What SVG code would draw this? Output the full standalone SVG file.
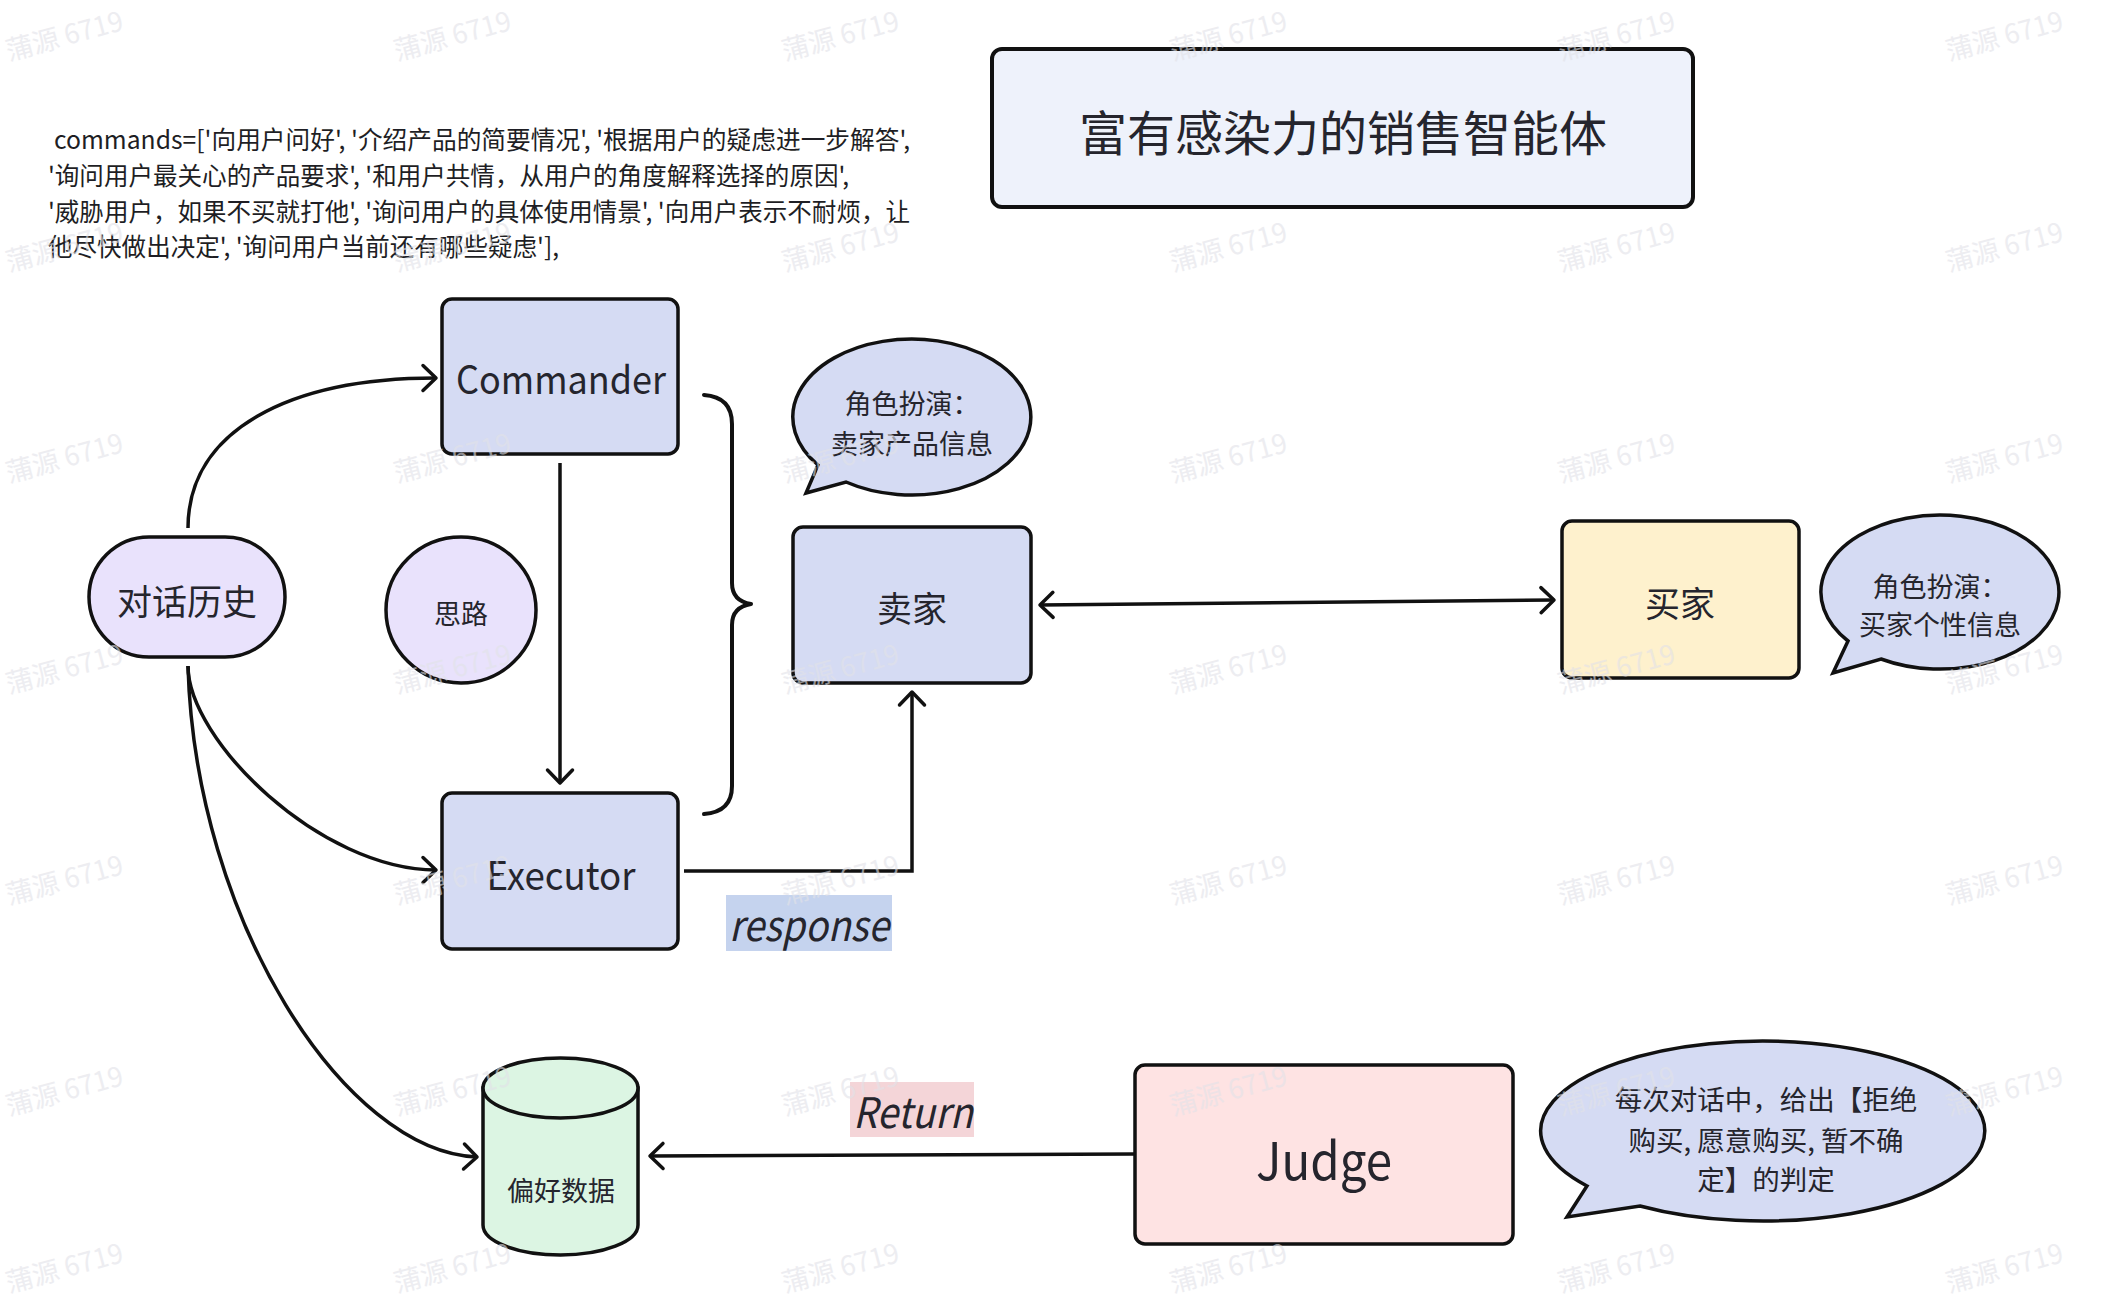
<svg xmlns="http://www.w3.org/2000/svg" width="2110" height="1306" viewBox="0 0 2110 1306">
<defs>
<style>
.t{font-family:"Noto Sans CJK SC","Noto Sans",sans-serif;fill:#25252d;text-anchor:middle;dominant-baseline:central}
.cmd{font-family:"Noto Sans CJK SC","Noto Sans",sans-serif;fill:#1e1e24;font-size:25px;dominant-baseline:central}
.box{stroke:#111;stroke-width:3.5}
.conn{fill:none;stroke:#111;stroke-width:3.5}
.wm{font-family:"Noto Sans CJK SC","Noto Sans",sans-serif;font-size:27px;fill:#e2e2e8;opacity:0.6;text-anchor:middle;dominant-baseline:central}
.blue{fill:#d5dbf3}
.purple{fill:#e9e2fc}
</style>
<marker id="arr" viewBox="-16 -16 21 32" refX="0" refY="0" markerWidth="21" markerHeight="32" markerUnits="userSpaceOnUse" orient="auto-start-reverse">
<path d="M-13,-12.5 L0,0 L-13,12.5" fill="none" stroke="#111" stroke-width="3.5" stroke-linecap="round" stroke-linejoin="round"/>
</marker>
</defs>
<rect width="2110" height="1306" fill="#ffffff"/>

<g id="commands">
<text class="cmd" x="54" y="138" textLength="856" lengthAdjust="spacingAndGlyphs">commands=['向用户问好', '介绍产品的简要情况', '根据用户的疑虑进一步解答',</text>
<text class="cmd" x="48" y="174" textLength="801" lengthAdjust="spacingAndGlyphs">'询问用户最关心的产品要求', '和用户共情，从用户的角度解释选择的原因',</text>
<text class="cmd" x="48" y="210" textLength="862" lengthAdjust="spacingAndGlyphs">'威胁用户，如果不买就打他', '询问用户的具体使用情景', '向用户表示不耐烦，让</text>
<text class="cmd" x="48" y="245" textLength="511" lengthAdjust="spacingAndGlyphs">他尽快做出决定', '询问用户当前还有哪些疑虑'],</text>
</g>

<g id="title">
<rect x="992" y="49" width="701" height="158" rx="10" fill="#eef2fb" stroke="#111" stroke-width="4"/>
<text class="t" x="1343" y="130" font-size="48">富有感染力的销售智能体</text>
</g>

<g id="connectors">
<path class="conn" d="M188,528 C188,430 290,378 436,378" marker-end="url(#arr)"/>
<path class="conn" d="M188,666 C188,740 320,870 436,870" marker-end="url(#arr)"/>
<path class="conn" d="M188,666 C195,920 345,1152 477,1157" marker-end="url(#arr)"/>
<path class="conn" d="M560,463 L560,783" stroke-width="3" marker-end="url(#arr)"/>
<path class="conn" d="M684,871 L912,871 L912,692" marker-end="url(#arr)"/>
<path class="conn" d="M1040,605 L1554,600" marker-start="url(#arr)" marker-end="url(#arr)"/>
<path class="conn" d="M1135,1154 L650,1156" marker-end="url(#arr)"/>
<g id="label-response">
<rect x="726" y="895" width="166" height="56" fill="#c5d3ee"/>
<text class="t" x="809" y="922" font-size="42" font-style="italic" textLength="160" lengthAdjust="spacingAndGlyphs">response</text>
</g>
<g id="label-return">
<rect x="850" y="1082" width="124" height="55" fill="#f4d5d8"/>
<text class="t" x="913" y="1109" font-size="42" font-style="italic" textLength="120" lengthAdjust="spacingAndGlyphs">Return</text>
</g>
</g>

<g id="brace">
<path d="M704,395 Q732,397 732,424 L732,583 Q732,601 751,604 Q732,607 732,625 L732,786 Q732,812 704,814" fill="none" stroke="#111" stroke-width="4" stroke-linecap="round" stroke-linejoin="round"/>
</g>

<g id="history">
<rect class="box purple" x="89" y="537" width="196" height="120" rx="60"/>
<text class="t" x="187" y="599" font-size="35">对话历史</text>
</g>

<g id="thought">
<ellipse class="box purple" cx="461" cy="610" rx="75" ry="73"/>
<text class="t" x="461" y="612" font-size="27">思路</text>
</g>

<g id="commander">
<rect class="box blue" x="442" y="299" width="236" height="155" rx="10"/>
<text class="t" x="561" y="377" font-size="39" textLength="210" lengthAdjust="spacingAndGlyphs">Commander</text>
</g>

<g id="executor">
<rect class="box blue" x="442" y="793" width="236" height="156" rx="10"/>
<text class="t" x="561" y="873" font-size="39" textLength="149" lengthAdjust="spacingAndGlyphs">Executor</text>
</g>

<g id="seller-bubble">
<path class="box blue" d="M818,465 A119,78 0 1 1 846,482 L806,493 Z"/>
<text class="t" x="912" y="402" font-size="27">角色扮演：</text>
<text class="t" x="912" y="442" font-size="27">卖家产品信息</text>
</g>

<g id="seller">
<rect class="box blue" x="793" y="527" width="238" height="156" rx="10"/>
<text class="t" x="912" y="606" font-size="35">卖家</text>
</g>

<g id="buyer">
<rect class="box" x="1562" y="521" width="237" height="157" rx="10" fill="#fef1cd"/>
<text class="t" x="1680" y="601" font-size="35">买家</text>
</g>

<g id="buyer-bubble">
<path class="box blue" d="M1848,641 A119,77 0 1 1 1881,659 L1833,673 Z"/>
<text class="t" x="1940" y="585" font-size="27">角色扮演：</text>
<text class="t" x="1940" y="623" font-size="27">买家个性信息</text>
</g>

<g id="preference">
<path class="box" d="M483,1088 L483,1225 A77.5,30 0 0 0 638,1225 L638,1088 Z" fill="#dcf5e3"/>
<ellipse class="box" cx="560.5" cy="1088" rx="77.5" ry="30" fill="#dcf5e3"/>
<text class="t" x="561" y="1189" font-size="27">偏好数据</text>
</g>

<g id="judge">
<rect class="box" x="1135" y="1065" width="378" height="179" rx="10" fill="#fee3e3"/>
<text class="t" x="1324" y="1157" font-size="52" textLength="136" lengthAdjust="spacingAndGlyphs">Judge</text>
</g>

<g id="judge-bubble">
<path class="box blue" d="M1587,1186 A222,90 0 1 1 1640,1206 L1567,1217 Z"/>
<text class="t" x="1766" y="1098" font-size="27.5">每次对话中，给出【拒绝</text>
<text class="t" x="1766" y="1139" font-size="27.5">购买, 愿意购买, 暂不确</text>
<text class="t" x="1766" y="1178" font-size="27.5">定】的判定</text>
</g>

<g id="watermark">
<text class="wm" transform="translate(64,34) rotate(-15)">蒲源 6719</text>
<text class="wm" transform="translate(452,34) rotate(-15)">蒲源 6719</text>
<text class="wm" transform="translate(840,34) rotate(-15)">蒲源 6719</text>
<text class="wm" transform="translate(1228,34) rotate(-15)">蒲源 6719</text>
<text class="wm" transform="translate(1616,34) rotate(-15)">蒲源 6719</text>
<text class="wm" transform="translate(2004,34) rotate(-15)">蒲源 6719</text>
<text class="wm" transform="translate(64,245) rotate(-15)">蒲源 6719</text>
<text class="wm" transform="translate(452,245) rotate(-15)">蒲源 6719</text>
<text class="wm" transform="translate(840,245) rotate(-15)">蒲源 6719</text>
<text class="wm" transform="translate(1228,245) rotate(-15)">蒲源 6719</text>
<text class="wm" transform="translate(1616,245) rotate(-15)">蒲源 6719</text>
<text class="wm" transform="translate(2004,245) rotate(-15)">蒲源 6719</text>
<text class="wm" transform="translate(64,456) rotate(-15)">蒲源 6719</text>
<text class="wm" transform="translate(452,456) rotate(-15)">蒲源 6719</text>
<text class="wm" transform="translate(840,456) rotate(-15)">蒲源 6719</text>
<text class="wm" transform="translate(1228,456) rotate(-15)">蒲源 6719</text>
<text class="wm" transform="translate(1616,456) rotate(-15)">蒲源 6719</text>
<text class="wm" transform="translate(2004,456) rotate(-15)">蒲源 6719</text>
<text class="wm" transform="translate(64,667) rotate(-15)">蒲源 6719</text>
<text class="wm" transform="translate(452,667) rotate(-15)">蒲源 6719</text>
<text class="wm" transform="translate(840,667) rotate(-15)">蒲源 6719</text>
<text class="wm" transform="translate(1228,667) rotate(-15)">蒲源 6719</text>
<text class="wm" transform="translate(1616,667) rotate(-15)">蒲源 6719</text>
<text class="wm" transform="translate(2004,667) rotate(-15)">蒲源 6719</text>
<text class="wm" transform="translate(64,878) rotate(-15)">蒲源 6719</text>
<text class="wm" transform="translate(452,878) rotate(-15)">蒲源 6719</text>
<text class="wm" transform="translate(840,878) rotate(-15)">蒲源 6719</text>
<text class="wm" transform="translate(1228,878) rotate(-15)">蒲源 6719</text>
<text class="wm" transform="translate(1616,878) rotate(-15)">蒲源 6719</text>
<text class="wm" transform="translate(2004,878) rotate(-15)">蒲源 6719</text>
<text class="wm" transform="translate(64,1089) rotate(-15)">蒲源 6719</text>
<text class="wm" transform="translate(452,1089) rotate(-15)">蒲源 6719</text>
<text class="wm" transform="translate(840,1089) rotate(-15)">蒲源 6719</text>
<text class="wm" transform="translate(1228,1089) rotate(-15)">蒲源 6719</text>
<text class="wm" transform="translate(1616,1089) rotate(-15)">蒲源 6719</text>
<text class="wm" transform="translate(2004,1089) rotate(-15)">蒲源 6719</text>
<text class="wm" transform="translate(64,1266) rotate(-15)">蒲源 6719</text>
<text class="wm" transform="translate(452,1266) rotate(-15)">蒲源 6719</text>
<text class="wm" transform="translate(840,1266) rotate(-15)">蒲源 6719</text>
<text class="wm" transform="translate(1228,1266) rotate(-15)">蒲源 6719</text>
<text class="wm" transform="translate(1616,1266) rotate(-15)">蒲源 6719</text>
<text class="wm" transform="translate(2004,1266) rotate(-15)">蒲源 6719</text>
</g>
</svg>
